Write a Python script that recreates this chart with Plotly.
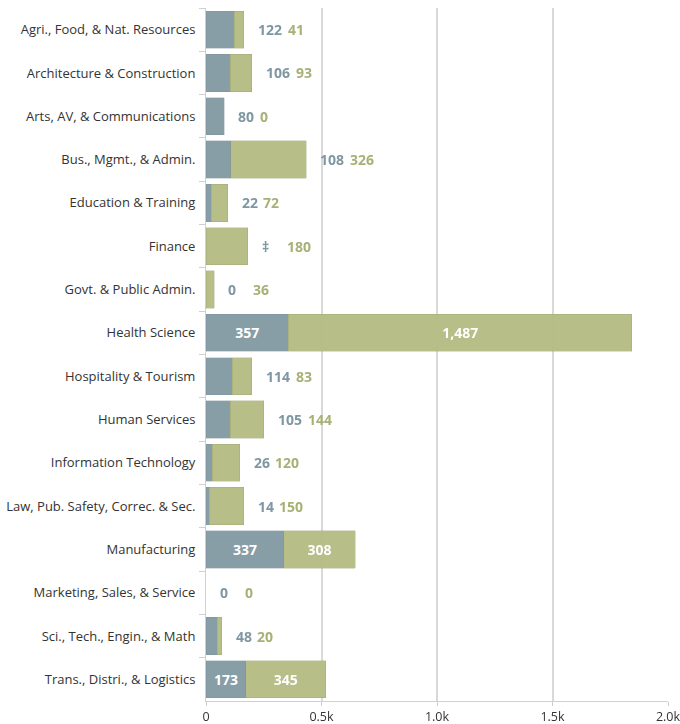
import plotly.graph_objects as go

categories = [
    "Agri., Food, & Nat. Resources", "Architecture & Construction",
    "Arts, AV, & Communications", "Bus., Mgmt., & Admin.",
    "Education & Training", "Finance", "Govt. & Public Admin.",
    "Health Science", "Hospitality & Tourism", "Human Services",
    "Information Technology", "Law, Pub. Safety, Correc. & Sec.",
    "Manufacturing", "Marketing, Sales, & Service",
    "Sci., Tech., Engin., & Math", "Trans., Distri., & Logistics",
]
series_a = [122, 106, 80, 108, 22, None, 0, 357, 114, 105, 26, 14, 337, 0, 48, 173]
series_b = [41, 93, 0, 326, 72, 180, 36, 1487, 83, 144, 120, 150, 308, 0, 20, 345]
suppressed_label = "‡"
tick_vals = [0, 500, 1000, 1500, 2000]
tick_text = ["0", "0.5k", "1.0k", "1.5k", "2.0k"]

COL_A = "#859ba5"
COL_B = "#b5bc84"
LBL_A = "#7f97a2"
LBL_B = "#a8b076"

a_vals = [v if v is not None else 0 for v in series_a]
totals = [a + b for a, b in zip(a_vals, series_b)]
inside = [t > 500 for t in totals]

def fmt(v):
    return suppressed_label if v is None else f"{v:,}"

text_a = [fmt(v) if ins else "" for v, ins in zip(series_a, inside)]
text_b = [fmt(v) if ins else "" for v, ins in zip(series_b, inside)]

fig = go.Figure()
fig.add_trace(go.Bar(
    y=categories, x=a_vals, orientation="h", name="A",
    marker=dict(color=COL_A,
                line=dict(color="rgba(115,135,145,0.5)",
                          width=[0.6 if v > 0 else 0 for v in a_vals])),
    opacity=0.97,
    text=text_a, textposition="inside", insidetextanchor="middle",
    textfont=dict(color="white", size=14, family="Open Sans", weight="bold"),
    hoverinfo="skip",
))
fig.add_trace(go.Bar(
    y=categories, x=series_b, orientation="h", name="B",
    marker=dict(color=COL_B,
                line=dict(color="rgba(150,158,105,0.55)",
                          width=[0.6 if v > 0 else 0 for v in series_b])),
    opacity=0.97,
    text=text_b, textposition="inside", insidetextanchor="middle",
    textfont=dict(color="white", size=14, family="Open Sans", weight="bold"),
    hoverinfo="skip",
))

def slot(s):
    n = len(s)
    if n >= 3:
        return 30
    if n == 2:
        return 21.5
    return 25

for cat, va, vb, tot, ins in zip(categories, series_a, series_b, totals, inside):
    if ins:
        continue
    ta, tb = fmt(va), fmt(vb)
    fig.add_annotation(x=tot, y=cat, text=ta, showarrow=False, xanchor="left",
                       yanchor="middle", xshift=12,
                       font=dict(color=LBL_A, size=14, family="Open Sans", weight="bold"))
    fig.add_annotation(x=tot, y=cat, text=tb, showarrow=False, xanchor="left",
                       yanchor="middle", xshift=12 + slot(ta),
                       font=dict(color=LBL_B, size=14, family="Open Sans", weight="bold"))

fig.update_layout(
    barmode="stack", bargap=0.14, showlegend=False,
    width=680, height=724,
    margin=dict(l=206, r=12, t=8, b=23),
    plot_bgcolor="white", paper_bgcolor="white",
    font=dict(family="Open Sans", size=13, color="#333333"),
    uniformtext=dict(mode="show", minsize=8),
)
fig.update_xaxes(
    range=[0, 2000], tickvals=tick_vals, ticktext=tick_text,
    showgrid=True, gridcolor="#d9d9d9", gridwidth=1.5,
    zeroline=False, showline=True, linecolor="#d0d0d0", linewidth=1,
    automargin=False, ticklabeloverflow="allow",
    ticks="outside", ticklen=4, tickcolor="#cccccc",
    tickfont=dict(size=12.5, color="#333333"), fixedrange=True,
)
fig.update_yaxes(
    autorange="reversed", showgrid=False, automargin=False,
    showline=True, linecolor="#d0d0d0", linewidth=1,
    ticks="outside", ticklen=6, tickcolor="#d0d0d0", tickson="boundaries",
    ticklabelstandoff=7,
    tickfont=dict(size=13, color="#333333"), fixedrange=True,
)

fig.write_html(
    "out.html",
    config={"displayModeBar": False},
    post_script="document.body.style.margin='0';document.body.style.overflow='hidden';",
)
